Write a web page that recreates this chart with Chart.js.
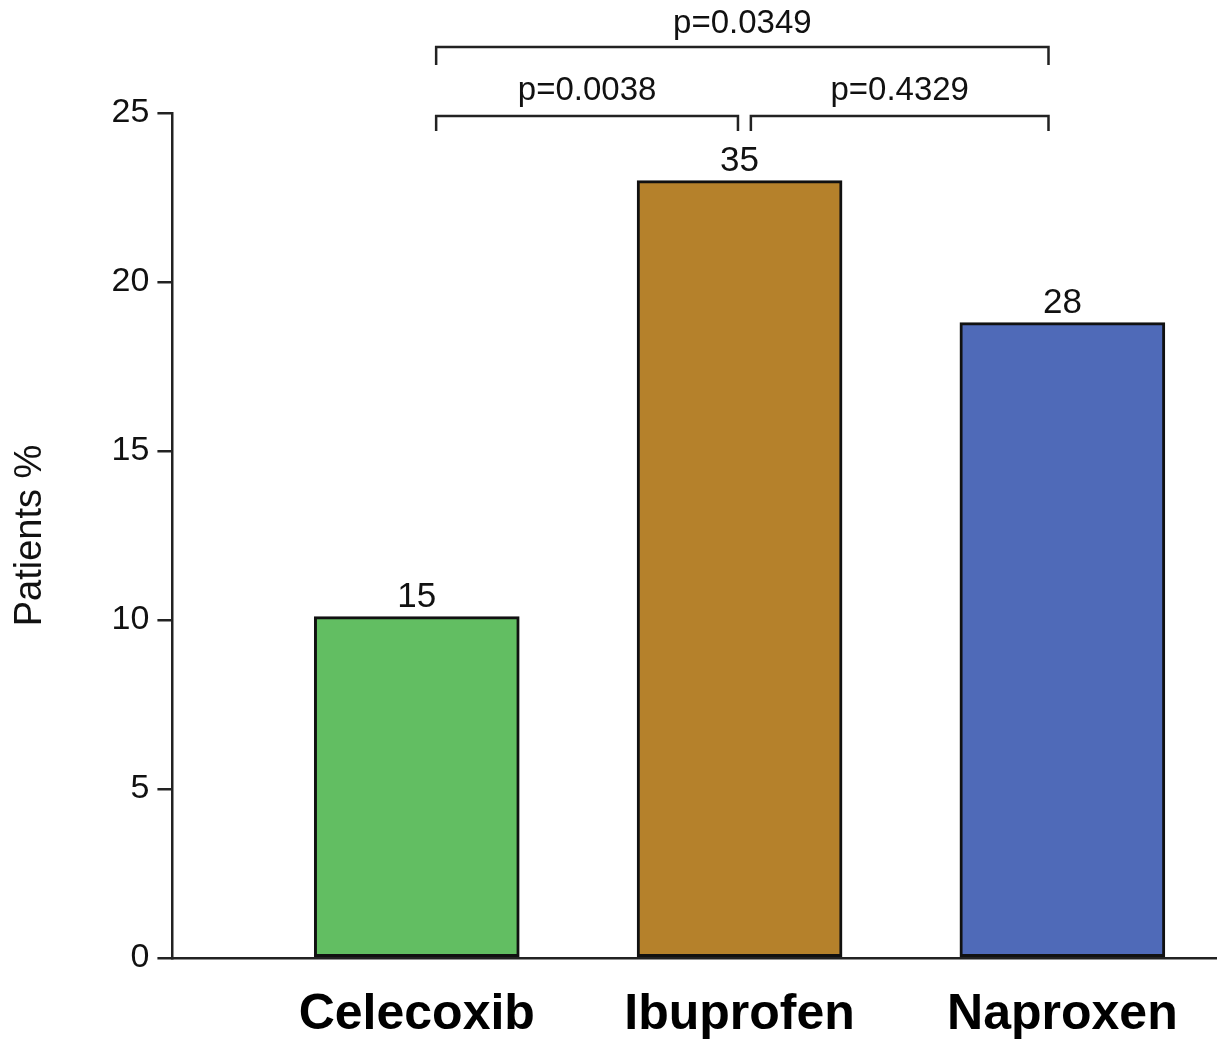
<!DOCTYPE html>
<html>
<head>
<meta charset="utf-8">
<script src="https://cdn.jsdelivr.net/npm/chart.js@4.4.1/dist/chart.umd.min.js"></script>
<style>
  html, body { margin: 0; padding: 0; background: #fff; }
  #wrap { width: 1217px; height: 1044px; }
</style>
</head>
<body>
<div id="wrap"><canvas id="barChart"></canvas></div>
<script>
// Data
const drugs = ["Celecoxib", "Ibuprofen", "Naproxen"]
const patientPct = [10.1, 23.0, 18.8]
const patientCounts = [15, 35, 28]
const yTicks = [0, 5, 10, 15, 20, 25]
const comparisons = [
  { from: 1, to: 2, p: "p=0.0038", level: 0 },
  { from: 2, to: 3, p: "p=0.4329", level: 0 },
  { from: 1, to: 3, p: "p=0.0349", level: 1 },
]
const barColors = ["#62BE62", "#B5812B", "#4F6AB8"]

const FONT = "'Liberation Sans', Arial, Helvetica, sans-serif"

// Counts above each bar
const countLabels = {
  id: "countLabels",
  afterDatasetsDraw(chart) {
    const ctx = chart.ctx
    const meta = chart.getDatasetMeta(0)
    ctx.save()
    ctx.font = "35px " + FONT
    ctx.fillStyle = "#111"
    ctx.textAlign = "center"
    ctx.textBaseline = "alphabetic"
    meta.data.forEach((bar, i) => {
      ctx.fillText(String(patientCounts[i]), bar.x, bar.y - 10)
    })
    ctx.restore()
  },
}

// Significance brackets
const brackets = {
  id: "brackets",
  afterDraw(chart) {
    const ctx = chart.ctx
    const x = chart.scales.x
    const top = chart.chartArea.top
    ctx.save()
    ctx.strokeStyle = "#222"
    ctx.lineWidth = 2.5
    ctx.fillStyle = "#111"
    ctx.font = "33px " + FONT
    ctx.textAlign = "center"
    comparisons.forEach((c) => {
      const x1 = x.getPixelForValue(c.from + (c.from === 2 ? 0.035 : 0.06))
      const x2 = x.getPixelForValue(c.to - (c.to === 2 ? 0.005 : 0.043))
      const y = c.level === 1 ? top - 66 : top + 3
      const drop = c.level === 1 ? 18 : 15
      ctx.beginPath()
      ctx.moveTo(x1, y + drop)
      ctx.lineTo(x1, y)
      ctx.lineTo(x2, y)
      ctx.lineTo(x2, y + drop)
      ctx.stroke()
      ctx.fillText(c.p, (x1 + x2) / 2, y - (c.level === 1 ? 14 : 16))
    })
    ctx.restore()
  },
}

new Chart(document.getElementById("barChart"), {
  type: "bar",
  data: {
    datasets: [
      {
        data: patientPct.map((v, i) => ({ x: i + 1, y: v })),
        backgroundColor: barColors,
        borderColor: "#111",
        borderWidth: 3,
        borderSkipped: false,
        barThickness: 205,
      },
    ],
  },
  options: {
    responsive: true,
    maintainAspectRatio: false,
    animation: false,
    layout: { padding: { top: 113, right: 0, bottom: 0, left: 0 } },
    plugins: {
      legend: { display: false },
      tooltip: { enabled: false },
    },
    scales: {
      x: {
        type: "linear",
        offset: false,
        min: 0.243,
        max: 3.479,
        grid: { display: false, drawTicks: false },
        border: { display: true, color: "#222", width: 2.5 },
        afterBuildTicks: (scale) => {
          scale.ticks = drugs.map((d, i) => ({ value: i + 1 }))
        },
        afterFit: (scale) => {
          scale.height = 86
        },
        ticks: {
          padding: 27,
          color: "#000",
          font: { family: FONT, size: 50, weight: "bold", lineHeight: 1.2 },
          callback: (value) => drugs[value - 1] || "",
        },
      },
      y: {
        min: 0,
        max: 25,
        afterBuildTicks: (scale) => {
          scale.ticks = yTicks.map((v) => ({ value: v }))
        },
        grid: {
          drawOnChartArea: false,
          drawTicks: true,
          tickLength: 15,
          color: "#222",
          lineWidth: 2.5,
        },
        border: { display: true, color: "#222", width: 2.5 },
        ticks: {
          padding: 8,
          color: "#111",
          font: { family: FONT, size: 34 },
        },
        title: {
          display: true,
          text: "Patients %",
          color: "#111",
          padding: { top: 8, bottom: 50 },
          font: { family: FONT, size: 38 },
        },
      },
    },
  },
  plugins: [countLabels, brackets],
})
</script>
</body>
</html>
